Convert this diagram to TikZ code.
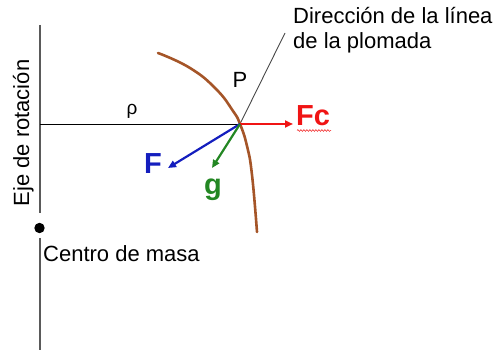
\documentclass[tikz,border=0pt]{standalone}
\usepackage{fontspec}
\setmainfont{Liberation Sans}
\usetikzlibrary{arrows.meta,decorations.pathmorphing}
\definecolor{curvebrown}{RGB}{165,85,40}
\definecolor{fcred}{RGB}{240,20,20}
\definecolor{fblue}{RGB}{20,30,190}
\definecolor{ggreen}{RGB}{35,135,35}
\definecolor{axisgray}{RGB}{90,90,90}
\tikzset{
  lbl/.style={inner sep=0pt, font=\fontsize{22}{25}\selectfont},
  vec/.style={line width=2.2pt, -{Triangle[length=8pt,width=7pt]}},
  vlbl/.style={inner sep=0pt, font=\fontsize{29}{32}\selectfont\bfseries}
}
\begin{document}
\begin{tikzpicture}[x=1pt,y=1pt]
\useasboundingbox (0,0) rectangle (500,351);
% coordinates
\coordinate (P) at (240,227);
\coordinate (axtop) at (40,326);
\coordinate (axgap1) at (40,138);
\coordinate (axgap2) at (40,113);
\coordinate (axbot) at (40,1);
\coordinate (axP) at (40,227);
\coordinate (cm) at (39.5,123);
\coordinate (plumb) at (285,318);
\coordinate (fcend) at (293,227);
\coordinate (fend) at (168,183);
\coordinate (gend) at (212,183);
% axis
\draw[axisgray, line width=1.6pt] (axtop) -- (axgap1);
\draw[axisgray, line width=1.6pt] (axgap2) -- (axbot);
\fill[black] (cm) circle[radius=5.2];
% radius line
\draw[black, line width=0.9pt] (axP) -- (P);
% plumb line
\draw[axisgray!80!black, line width=0.9pt] (P) -- (plumb);
% brown curve
\draw[curvebrown, line width=2.6pt, line cap=round] plot[smooth, tension=0.8] coordinates {(158,298) (190,283) (216,262) (233,240) (240,227) (247,205) (252,176) (257,119)};
% vectors
\draw[vec, fcred] (P) -- (fcend);
\draw[vec, fblue] (P) -- (fend);
\draw[vec, ggreen] (P) -- (gend);
% labels
\node[vlbl, fcred, anchor=base west] (fc) at (296,225) {Fc};
\draw[fcred, line width=0.5pt, decorate, decoration={snake, amplitude=0.9pt, segment length=3pt}] (297,220.5) -- (331,220.5);
\node[vlbl, fblue, anchor=base west] (flbl) at (144,178) {F};
\node[vlbl, ggreen, anchor=base west] (glbl) at (204,157) {g};
\node[lbl, anchor=base] (plbl) at (240,263) {P};
\node[inner sep=0pt, anchor=base, font=\fontsize{19}{22}\selectfont] (rho) at (132,236) {ρ};
\node[lbl, anchor=base west] (dir1) at (293,327) {Dirección de la línea};
\node[lbl, anchor=base west] (dir2) at (293,302) {de la plomada};
\node[lbl, anchor=base west] (cmlbl) at (43,90) {Centro de masa};
\node[lbl, anchor=base, rotate=90] (eje) at (29,218) {Eje de rotación};
\end{tikzpicture}
\end{document}
